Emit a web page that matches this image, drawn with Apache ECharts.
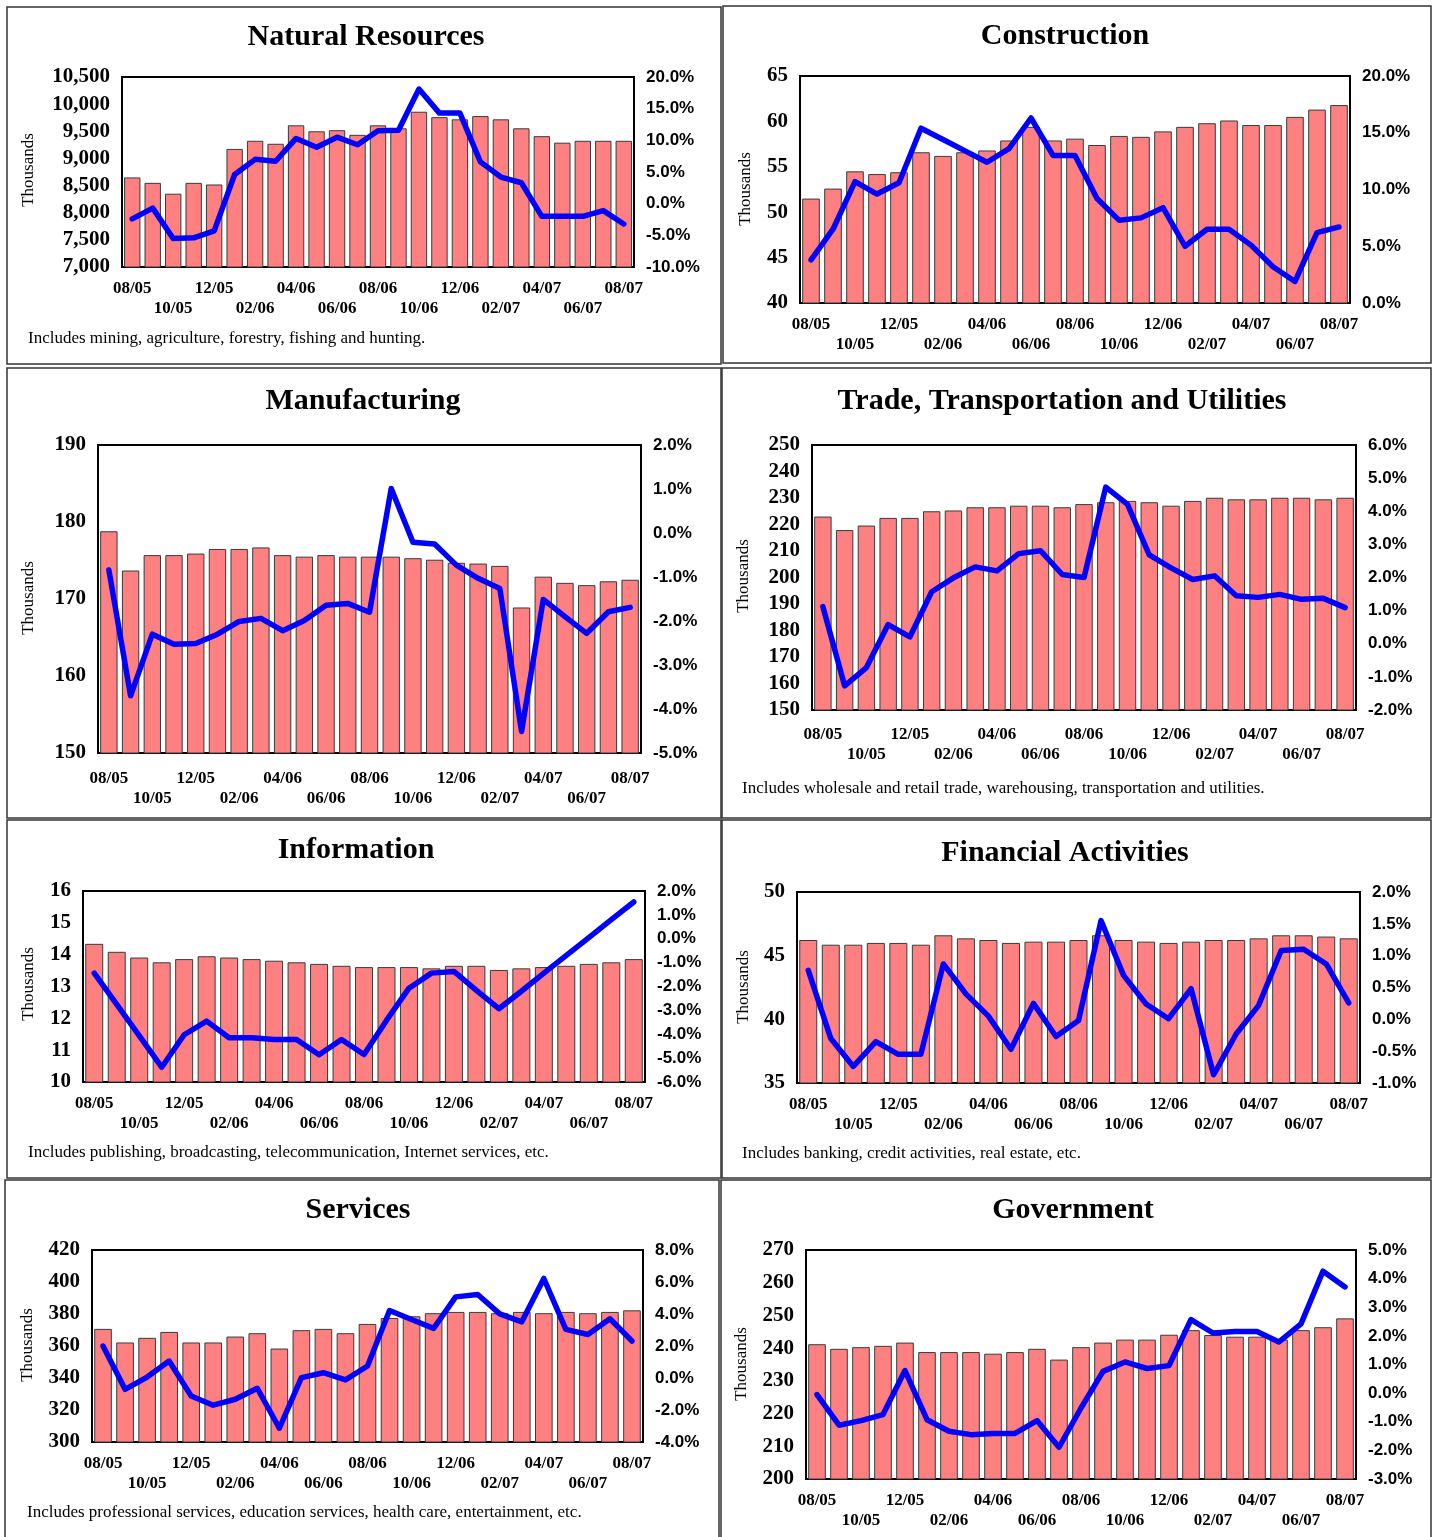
<!DOCTYPE html>
<html>
<head>
<meta charset="utf-8">
<title>Employment by Industry, 08/05 – 08/07</title>
<script src="https://cdn.jsdelivr.net/npm/echarts@6/dist/echarts.min.js"></script>
<style>
  html, body { margin: 0; padding: 0; background: #fff; }
  #chart { width: 1434px; height: 1537px; }
</style>
</head>
<body>
<div id="chart"></div>
<script>
// Months on the category axis
const months = ['08/05','09/05','10/05','11/05','12/05','01/06','02/06','03/06','04/06','05/06','06/06','07/06','08/06',
                '09/06','10/06','11/06','12/06','01/07','02/07','03/07','04/07','05/07','06/07','07/07','08/07'];

// Employment (thousands) and over-the-year change (%) by industry
const naturalResourcesJobs   = [8650, 8550, 8350, 8550, 8520, 9175, 9325, 9270, 9610, 9500, 9520, 9435, 9610, 9555, 9860, 9760, 9720, 9780, 9720, 9555, 9410, 9290, 9325, 9325, 9325];
const naturalResourcesChange = [-2.4, -0.7, -5.5, -5.4, -4.3, 4.6, 7.0, 6.7, 10.3, 8.9, 10.5, 9.3, 11.5, 11.6, 18.1, 14.3, 14.3, 6.6, 4.2, 3.3, -2.0, -2.0, -2.0, -1.1, -3.2];

const constructionJobs   = [51.5, 52.6, 54.5, 54.2, 54.4, 56.6, 56.2, 56.6, 56.8, 57.9, 59.4, 57.9, 58.1, 57.4, 58.4, 58.3, 58.9, 59.4, 59.8, 60.1, 59.6, 59.6, 60.5, 61.3, 61.8];
const constructionChange = [3.8, 6.5, 10.7, 9.6, 10.6, 15.4, 14.4, 13.4, 12.4, 13.6, 16.3, 13.0, 13.0, 9.2, 7.3, 7.5, 8.4, 5.0, 6.5, 6.5, 5.1, 3.2, 1.9, 6.2, 6.7];

const manufacturingJobs   = [178.8, 173.7, 175.7, 175.7, 175.9, 176.5, 176.5, 176.7, 175.7, 175.5, 175.7, 175.5, 175.5, 175.5, 175.3, 175.1, 174.7, 174.6, 174.3, 168.9, 172.9, 172.1, 171.8, 172.3, 172.5];
const manufacturingChange = [-0.84, -3.70, -2.30, -2.53, -2.51, -2.30, -2.01, -1.94, -2.22, -1.99, -1.64, -1.60, -1.80, 1.01, -0.21, -0.25, -0.73, -1.03, -1.26, -4.51, -1.51, -1.90, -2.28, -1.79, -1.69];

const tradeJobs   = [223.0, 217.9, 219.6, 222.5, 222.5, 225.0, 225.3, 226.5, 226.5, 227.1, 227.1, 226.5, 227.7, 228.4, 228.9, 228.4, 227.1, 228.9, 230.1, 229.5, 229.5, 230.1, 230.1, 229.5, 230.1];
const tradeChange = [1.12, -1.27, -0.72, 0.58, 0.21, 1.57, 1.99, 2.32, 2.20, 2.72, 2.81, 2.09, 2.00, 4.73, 4.21, 2.68, 2.29, 1.94, 2.05, 1.45, 1.40, 1.49, 1.34, 1.37, 1.09];

const informationJobs   = [14.34, 14.09, 13.91, 13.76, 13.86, 13.95, 13.91, 13.86, 13.81, 13.76, 13.71, 13.65, 13.61, 13.61, 13.61, 13.57, 13.65, 13.65, 13.52, 13.57, 13.61, 13.65, 13.71, 13.76, 13.86];
const informationChange = [-1.44, -2.75, -4.06, -5.38, -4.02, -3.45, -4.15, -4.15, -4.22, -4.22, -4.86, -4.22, -4.85, -3.42, -2.07, -1.44, -1.37, -2.16, -2.93, -2.20, -1.44, -0.70, 0.05, 0.80, 1.54];

const financialJobs   = [46.23, 45.86, 45.86, 46.0, 46.0, 45.86, 46.6, 46.36, 46.23, 46.0, 46.1, 46.1, 46.23, 46.6, 46.23, 46.1, 46.0, 46.1, 46.23, 46.23, 46.36, 46.6, 46.6, 46.5, 46.36];
const financialChange = [0.77, -0.30, -0.74, -0.35, -0.55, -0.55, 0.87, 0.40, 0.05, -0.47, 0.25, -0.27, -0.02, 1.55, 0.69, 0.24, 0.01, 0.48, -0.87, -0.23, 0.22, 1.08, 1.10, 0.87, 0.26];

const servicesJobs   = [370.7, 362.2, 365.1, 368.8, 362.2, 362.2, 365.9, 368.0, 358.4, 369.9, 370.7, 368.0, 373.8, 377.5, 378.6, 380.5, 381.3, 381.3, 380.5, 381.3, 380.5, 381.3, 380.5, 381.3, 382.3];
const servicesChange = [2.0, -0.71, 0.06, 1.06, -1.12, -1.70, -1.33, -0.64, -3.14, 0.02, 0.33, -0.12, 0.75, 4.22, 3.66, 3.10, 5.07, 5.22, 4.01, 3.51, 6.22, 3.04, 2.72, 3.70, 2.31];

const governmentJobs   = [241.2, 239.8, 240.3, 240.7, 241.7, 238.8, 238.8, 238.8, 238.3, 238.8, 239.8, 236.5, 240.3, 241.7, 242.6, 242.6, 244.1, 245.5, 244.0, 243.5, 243.5, 242.6, 245.5, 246.4, 249.1];
const governmentChange = [-0.05, -1.12, -0.96, -0.75, 0.79, -0.93, -1.33, -1.45, -1.41, -1.41, -0.96, -1.89, -0.52, 0.76, 1.09, 0.86, 0.96, 2.57, 2.10, 2.15, 2.15, 1.79, 2.42, 4.26, 3.71];

// Axis ranges: [min, max, interval] for the jobs (left) and change (right) scales
const naturalResourcesScale = { jobs: [7000, 10500, 500], change: [-10, 20, 5] };
const constructionScale     = { jobs: [40, 65, 5],        change: [0, 20, 5] };
const manufacturingScale    = { jobs: [150, 190, 10],     change: [-5, 2, 1] };
const tradeScale            = { jobs: [150, 250, 10],     change: [-2, 6, 1] };
const informationScale      = { jobs: [10, 16, 1],        change: [-6, 2, 1] };
const financialScale        = { jobs: [35, 50, 5],        change: [-1, 2, 0.5] };
const servicesScale         = { jobs: [300, 420, 20],     change: [-4, 8, 2] };
const governmentScale       = { jobs: [200, 270, 10],     change: [-3, 5, 1] };

// Panel layout: frame box, plot rectangle, title, axis-name and note positions
const panels = [
  { title: 'Natural Resources', jobs: naturalResourcesJobs, change: naturalResourcesChange, scale: naturalResourcesScale,
    box: [7, 7, 714, 357], plot: [122, 77, 512, 190], titleAt: [366, 37], yNameAt: [29, 170], labelMargin: 12,
    note: 'Includes mining, agriculture, forestry, fishing and hunting.', noteAt: [28, 339] },
  { title: 'Construction', jobs: constructionJobs, change: constructionChange, scale: constructionScale,
    box: [723, 6, 708, 357], plot: [800, 76, 550, 227], titleAt: [1065, 36], yNameAt: [746, 189], labelMargin: 12 },
  { title: 'Manufacturing', jobs: manufacturingJobs, change: manufacturingChange, scale: manufacturingScale,
    box: [7, 368, 714, 450], plot: [98, 445, 543, 308], titleAt: [363, 401], yNameAt: [29, 598], labelMargin: 16 },
  { title: 'Trade, Transportation and Utilities', jobs: tradeJobs, change: tradeChange, scale: tradeScale,
    box: [722, 368, 709, 450], plot: [812, 445, 544, 265], titleAt: [1062, 401], yNameAt: [744, 576], labelMargin: 15,
    note: 'Includes wholesale and retail trade, warehousing, transportation and utilities.', noteAt: [742, 789] },
  { title: 'Information', jobs: informationJobs, change: informationChange, scale: informationScale,
    box: [7, 820, 714, 358], plot: [83, 891, 562, 191], titleAt: [356, 850], yNameAt: [29, 984], labelMargin: 12,
    note: 'Includes publishing, broadcasting, telecommunication, Internet services, etc.', noteAt: [28, 1153] },
  { title: 'Financial Activities', jobs: financialJobs, change: financialChange, scale: financialScale,
    box: [722, 820, 709, 358], plot: [797, 892, 563, 191], titleAt: [1065, 853], yNameAt: [744, 987], labelMargin: 12,
    note: 'Includes banking, credit activities, real estate, etc.', noteAt: [742, 1154] },
  { title: 'Services', jobs: servicesJobs, change: servicesChange, scale: servicesScale,
    box: [5, 1180, 714, 362], plot: [92, 1250, 551, 192], titleAt: [358, 1210], yNameAt: [28, 1345], labelMargin: 12,
    note: 'Includes professional services, education services, health care, entertainment, etc.', noteAt: [27, 1513] },
  { title: 'Government', jobs: governmentJobs, change: governmentChange, scale: governmentScale,
    box: [721, 1180, 710, 362], plot: [806, 1250, 550, 229], titleAt: [1073, 1210], yNameAt: [742, 1364], labelMargin: 12 }
];

const SERIF = '"Liberation Serif", "Times New Roman", serif';
const SANS = '"Liberation Sans", Arial, sans-serif';
const BAR_COLOR = '#FF8080';
const LINE_COLOR = '#0000FF';

const grid = [], xAxis = [], yAxis = [], series = [], graphic = [];

panels.forEach((p, i) => {
  const [gx, gy, gw, gh] = p.plot;
  grid.push({
    left: gx, top: gy, width: gw, height: gh,
    show: true, borderColor: '#000', borderWidth: 2, backgroundColor: '#fff'
  });

  xAxis.push({
    type: 'category', gridIndex: i, data: months, boundaryGap: true,
    axisLine: { show: true, onZero: false, lineStyle: { color: '#000', width: 2 } },
    axisTick: { show: false },
    axisLabel: {
      interval: 1, margin: p.labelMargin, lineHeight: 20,
      fontFamily: SERIF, fontWeight: 'bold', fontSize: 17, color: '#000',
      formatter: (v, idx) => (idx % 4 === 2 ? '\n' + v : v)
    }
  });

  const [jMin, jMax, jInt] = p.scale.jobs;
  yAxis.push({
    type: 'value', gridIndex: i, position: 'left', min: jMin, max: jMax, interval: jInt,
    axisLine: { show: false }, axisTick: { show: false }, splitLine: { show: false },
    axisLabel: {
      margin: 12, fontFamily: SERIF, fontWeight: 'bold', fontSize: 21, color: '#000',
      formatter: v => v.toLocaleString('en-US')
    }
  });

  const [cMin, cMax, cInt] = p.scale.change;
  yAxis.push({
    type: 'value', gridIndex: i, position: 'right', min: cMin, max: cMax, interval: cInt,
    axisLine: { show: false }, axisTick: { show: false }, splitLine: { show: false },
    axisLabel: {
      margin: 12, fontFamily: SANS, fontWeight: 'bold', fontSize: 17, color: '#000',
      formatter: v => v.toFixed(1) + '%'
    }
  });

  series.push({
    name: p.title + ' employment', type: 'bar', xAxisIndex: i, yAxisIndex: 2 * i,
    data: p.jobs, barCategoryGap: '20%',
    itemStyle: { color: BAR_COLOR, borderColor: '#3a3a3a', borderWidth: 1 },
    animation: false
  });
  series.push({
    name: p.title + ' change', type: 'line', xAxisIndex: i, yAxisIndex: 2 * i + 1,
    data: p.change, showSymbol: false, symbol: 'none', z: 5,
    lineStyle: { color: LINE_COLOR, width: 5.5, cap: 'round', join: 'round' },
    animation: false
  });

  // Panel frame
  const [bx, by, bw, bh] = p.box;
  graphic.push({
    type: 'rect', shape: { x: bx, y: by, width: bw, height: bh }, z: -10, silent: true,
    style: { fill: 'none', stroke: '#333', lineWidth: 1.5 }
  });
  // Title
  graphic.push({
    type: 'text', x: p.titleAt[0], y: p.titleAt[1], silent: true,
    style: { text: p.title, font: 'bold 30px ' + SERIF, fill: '#000',
             textAlign: 'center', textVerticalAlign: 'middle', align: 'center', verticalAlign: 'middle' }
  });
  // Left axis name
  graphic.push({
    type: 'text', x: p.yNameAt[0], y: p.yNameAt[1], rotation: Math.PI / 2, silent: true,
    style: { text: 'Thousands', font: '17px ' + SERIF, fill: '#000',
             textAlign: 'center', textVerticalAlign: 'middle', align: 'center', verticalAlign: 'middle' }
  });
  // Footnote
  if (p.note) {
    graphic.push({
      type: 'text', x: p.noteAt[0], y: p.noteAt[1], silent: true,
      style: { text: p.note, font: '17px ' + SERIF, fill: '#000',
               textAlign: 'left', textVerticalAlign: 'middle', align: 'left', verticalAlign: 'middle' }
    });
  }
});

const chart = echarts.init(document.getElementById('chart'), null, { renderer: 'canvas' });
chart.setOption({
  backgroundColor: '#fff',
  animation: false,
  grid, xAxis, yAxis, series, graphic
});
</script>
</body>
</html>
